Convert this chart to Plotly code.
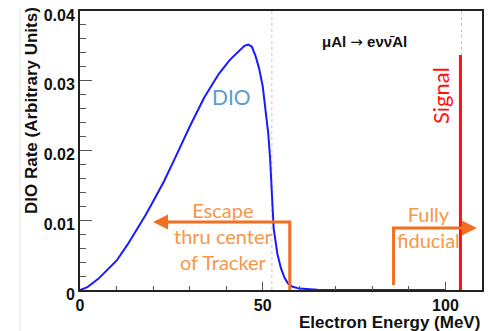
import plotly.graph_objects as go

# DIO spectrum
energy = [0, 2, 5, 8, 10, 13, 16, 18, 20, 23, 26, 30, 34, 38, 41, 43, 45, 46, 47, 48,
          49, 50, 51, 51.5, 52, 52.5, 53, 54, 55, 56, 57, 58, 60, 65, 70, 80, 90, 100]
rate = [0, 0.0004, 0.0016, 0.0031, 0.0042, 0.0065, 0.0090, 0.0108, 0.0127, 0.0156, 0.0189,
        0.0234, 0.0276, 0.0310, 0.0330, 0.0340, 0.0350, 0.0352, 0.0349, 0.0336, 0.0318,
        0.0292, 0.0252, 0.0225, 0.0190, 0.0128, 0.0088, 0.0052, 0.0031, 0.0017, 0.0009,
        0.0005, 0.0002, 0.00005, 0, 0, 0, 0]

x_ticks = [0, 50, 100]
x_tick_labels = ["0", "50", "100"]
y_ticks = [0, 0.01, 0.02, 0.03, 0.04]
y_tick_labels = ["0", "0.01", "0.02", "0.03", "0.04"]

signal_energy = 104.1
signal_top = 0.0337
dotted_energies = [52.5, 104.4]

escape_x = [57.4, 57.4, 21]
escape_y = [0, 0.00975, 0.00975]
escape_tip = (20, 0.00975)
fiducial_x = [85.8, 85.8, 107.5]
fiducial_y = [0.0007, 0.0089, 0.0089]
fiducial_tip = (108.6, 0.0089)

ORANGE_LINE = "#f26f21"
ORANGE_TEXT = "#f79646"

fig = go.Figure()

for e in dotted_energies:
    fig.add_shape(type="line", x0=e, x1=e, y0=0, y1=1, xref="x", yref="paper",
                  line=dict(color="rgba(240,120,120,0.6)", width=1, dash="dot"), layer="below")

fig.add_trace(go.Scatter(x=energy, y=rate, mode="lines",
                         line=dict(color="#1a1aff", width=2), hoverinfo="skip"))
fig.add_trace(go.Scatter(x=[signal_energy, signal_energy], y=[0, signal_top], mode="lines",
                         line=dict(color="#ff1010", width=3), hoverinfo="skip"))
fig.add_trace(go.Scatter(x=escape_x, y=escape_y, mode="lines",
                         line=dict(color=ORANGE_LINE, width=3), hoverinfo="skip"))
fig.add_trace(go.Scatter(x=fiducial_x, y=fiducial_y, mode="lines",
                         line=dict(color=ORANGE_LINE, width=3), hoverinfo="skip"))

for tail_x, tip in [(escape_x[-1] + 2, escape_tip), (fiducial_x[-1] - 2, fiducial_tip)]:
    fig.add_annotation(x=tip[0], y=tip[1], ax=tail_x, ay=tip[1], xref="x", yref="y",
                       axref="x", ayref="y", text="", showarrow=True, arrowhead=2,
                       arrowsize=1, arrowwidth=3, arrowcolor=ORANGE_LINE)

# slide border line
fig.add_shape(type="line", xref="paper", yref="paper", x0=-0.149, x1=-0.149, y0=-0.15, y1=1.04,
              line=dict(color="#e6e6e6", width=1))

fig.add_annotation(x=41.5, y=0.0277, xref="x", yref="y", text="DIO", showarrow=False,
                   font=dict(family="Lato, Open Sans", size=21, color="#5b9bd5"))
fig.add_annotation(x=98.7, y=0.0279, xref="x", yref="y", text="Signal", showarrow=False,
                   textangle=-90, font=dict(family="Lato, Open Sans", size=22, color="#ff1010"))
fig.add_annotation(x=77.8, y=0.0356, xref="x", yref="y",
                   text="\u03bcAl <span style=\"font-family:'DejaVu Sans';font-weight:normal\">\u2192</span> e\u03bd\u03bd\u0304Al",
                   showarrow=False, font=dict(family="Liberation Sans, Arial", size=15,
                                              color="#111", weight="bold"))
fig.add_annotation(x=39.3, y=0.0078, xref="x", yref="y",
                   text="Escape<br>thru center<br>of Tracker", showarrow=False, align="center",
                   font=dict(family="Lato, Open Sans", size=20, color=ORANGE_TEXT))
fig.add_annotation(x=95.4, y=0.0091, xref="x", yref="y",
                   text="Fully<br>fiducial", showarrow=False, align="center",
                   font=dict(family="Lato, Open Sans", size=20, color=ORANGE_TEXT))

fig.add_annotation(x=1.0, y=-0.117, xref="paper", yref="paper", xanchor="right", yanchor="middle",
                   text="Electron Energy (MeV)", showarrow=False,
                   font=dict(family="Liberation Sans, Arial", size=17, color="#111", weight="bold"))
fig.add_annotation(x=-0.122, y=0.645, xref="paper", yref="paper", xanchor="center", yanchor="middle",
                   text="DIO Rate (Arbitrary Units)", showarrow=False, textangle=-90,
                   font=dict(family="Liberation Sans, Arial", size=17, color="#111", weight="bold"))

axis_font = dict(family="Liberation Sans, Arial", size=16, color="#111", weight="bold")
# page body adds an 8px offset, so the figure is 8px smaller and shifted
fig.update_layout(
    width=485, height=323, margin=dict(l=72, r=11, t=3, b=41),
    paper_bgcolor="white", plot_bgcolor="white", showlegend=False,
    xaxis=dict(range=[0, 110], tickvals=x_ticks, ticktext=x_tick_labels, ticks="inside",
               ticklen=8, tickwidth=1, tickcolor="#555", showgrid=False, zeroline=False,
               showline=True, linecolor="#222", linewidth=2, mirror=True, tickfont=axis_font,
               automargin=False, ticklabeloverflow="allow",
               minor=dict(dtick=10, ticks="inside", ticklen=4, tickcolor="#555", showgrid=False)),
    yaxis=dict(range=[0, 0.04], tickvals=y_ticks, ticktext=y_tick_labels, ticks="inside",
               ticklen=12, tickwidth=1, tickcolor="#555", showgrid=False, zeroline=False,
               showline=True, linecolor="#222", linewidth=2, mirror=True, tickfont=axis_font,
               automargin=False, ticklabeloverflow="allow", ticklabelshift=4,
               minor=dict(dtick=0.002, ticks="inside", ticklen=6, tickcolor="#555", showgrid=False)),
)

fig.write_html("out.html")
